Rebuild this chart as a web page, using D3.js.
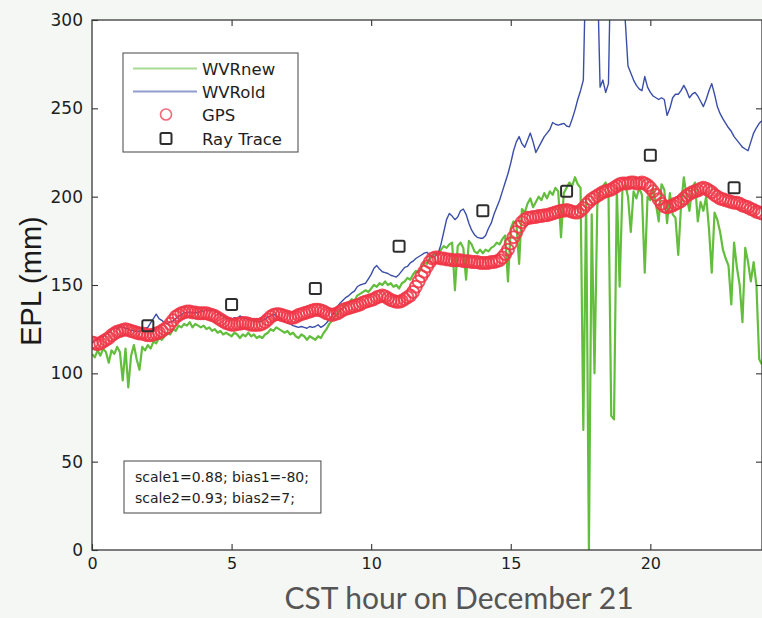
<!DOCTYPE html>
<html>
<head>
<meta charset="utf-8">
<script src="https://cdn.jsdelivr.net/npm/d3@7"></script>
<style>
  html, body { margin: 0; padding: 0; background: #f4f6f4; }
  svg { display: block; }
</style>
</head>
<body>
<svg id="chart" width="762" height="618"></svg>
<script>
// Excess path length (mm) sampled every 0.1 hour, 0 h to 24 h (CST, December 21)
const hourStep = 0.1;

const wvrNew = [
  111, 109, 113, 110, 114, 112, 106, 113, 111, 115,
  112, 96, 114, 92, 110, 116, 108, 102, 115, 113,
  116, 114, 118, 117, 120, 119, 121, 123, 122, 125,
  124, 127, 126, 128, 127, 129, 126, 128, 127, 126,
  127, 125, 126, 124, 125, 123, 124, 122, 123, 122,
  121, 123, 122, 120, 122, 121, 123, 121, 122, 120,
  121, 120, 122, 123, 125, 124, 126, 125, 124, 123,
  124, 122, 123, 121, 120, 122, 121, 119, 121, 120,
  119, 121, 120, 123, 125, 128, 130, 132, 134, 136,
  137, 139, 140, 142, 141, 144, 145, 146, 147, 146,
  148, 150, 149, 151, 150, 152, 150, 151, 149, 150,
  148, 151, 152, 154, 153, 156, 158, 157, 160, 163,
  162, 165, 167, 168, 167, 170, 172, 171, 173, 174,
  147, 172, 174, 171, 153, 175, 173, 169, 168, 170,
  168, 170, 169, 171, 172, 174, 173, 176, 178, 152,
  182, 186, 185, 162, 193, 191, 196, 199, 194, 197,
  200, 198, 202, 199, 203, 201, 205, 203, 177, 202,
  205, 208, 206, 211, 207, 205, 68, 200, 0, 190,
  100, 195, 204, 206, 208, 203, 76, 74, 205, 149,
  204, 207, 200, 180, 203, 199, 205, 201, 157, 200,
  198, 205, 196, 186, 207, 204, 185, 202, 190, 188,
  167, 195, 211, 200, 192, 205, 208, 186, 197, 192,
  200, 182, 157, 191, 187, 180, 170, 165, 161, 139,
  174, 160, 150, 129, 171, 163, 152, 163, 150, 108,
  105
];

const wvrOld = [
  117, 118.5, 119, 121, 120.5, 122.5, 123, 125, 126, 125,
  126.5, 126, 125.5, 125, 124, 124.5, 123.5, 124, 124, 125.5,
  126, 128.5, 131, 133.5, 131, 130, 128.5, 128, 129, 129.5,
  131, 132.5, 133, 134.5, 134, 135, 134, 134.5, 134, 135.5,
  135, 136, 135.5, 136, 135, 134.5, 133, 132.5, 131, 131,
  130.5, 131.5, 131, 132.5, 131.5, 131, 130.5, 130.5, 129.5, 129.5,
  129, 130, 130.5, 132, 132.5, 133.5, 132.5, 131.5, 130.5, 129.5,
  128.5, 128, 127, 126.5, 126, 126.5, 126, 125.5, 126.5, 126,
  126.5, 127.5, 126, 127, 128.5, 130.5, 132, 135.5, 138, 140,
  141.5, 143, 144, 145.5, 146.5, 149, 150, 150.5, 151, 153.5,
  156, 159.5, 161, 159, 157.5, 157, 156.5, 155.5, 155, 154.5,
  156, 158, 160, 160.5, 162.5, 163.5, 165, 166, 167, 168,
  168.5, 167, 166, 166.5, 168, 173, 180, 187, 190.5, 189,
  187, 188.5, 192, 193, 190, 185, 181, 178.5, 177, 176.5,
  176.5, 178, 182, 185, 190, 194, 198, 203, 208, 213,
  219, 226, 231, 234, 230, 228, 232, 236, 231, 225,
  228, 231, 234, 236, 238, 242, 241, 240.5, 241, 241.5,
  240, 239.5, 244, 249, 255, 260, 266, 340, 345, 350,
  340, 330, 262, 266, 259, 264, 350, 345, 340, 350,
  340, 300, 274, 270, 266, 263, 261, 260, 268, 262,
  259, 257, 256, 255, 256, 255, 246, 250, 256, 258,
  258, 260, 263, 260, 256, 258, 259, 257, 254, 251,
  255, 260, 264, 258, 251, 247, 244, 241.5, 239, 237,
  234, 232, 230, 228, 227, 226, 231, 236, 239, 241.5,
  243
];

const gps = [
  117.5, 117, 116.5, 117, 118, 119, 120, 121.5, 122.5, 123.5,
  124, 124.5, 125, 124.5, 124, 123.5, 123, 122.5, 122.5, 122,
  121.5, 121.5, 122, 122.5, 123, 124, 125, 126, 128, 130,
  132, 133, 134, 134.5, 135, 135, 134.5, 134.5, 134, 134,
  134, 134, 133.5, 133, 132.5, 131.5, 130.5, 129.5, 128.5, 128,
  127.5, 127.5, 128, 128, 128.5, 128.5, 128, 127.5, 127.5, 127.5,
  127.5, 128, 129, 130.5, 132, 133, 133.5, 133.5, 133, 132.5,
  132, 131.5, 131.5, 132, 133, 133.5, 134, 134.5, 135, 135.5,
  136, 136, 135.5, 135, 134, 133.5, 133, 133.5, 134, 135,
  136, 136.5, 137, 137.5, 138, 138.5, 139, 140, 140.5, 141,
  141.5, 142, 143, 143.5, 144, 143.5, 142.5, 141.5, 141, 140.5,
  140.5, 141, 142, 143, 144, 146, 149, 152, 155, 157.5,
  160.5, 163, 165, 165.5, 165.5, 165, 165, 164.5, 164.5, 164,
  164, 164, 164, 163.5, 163.5, 163.5, 163, 163, 163, 162.5,
  162.5, 162.5, 162.5, 163, 163, 163.5, 164, 165.5, 167.5, 170,
  173.5, 177, 180, 183, 185.5, 187, 188, 188, 188.5, 188.5,
  189, 189, 189.5, 189.5, 190, 190.5, 191, 191.5, 192, 192,
  192.5, 192, 191.5, 191, 191, 192, 193.5, 195.5, 197, 198.5,
  199.5, 200.5, 201.5, 202.5, 203, 203.5, 204, 205, 206, 207,
  207.5, 207.5, 207.5, 208, 208, 207.5, 207.5, 208, 207.5, 206.5,
  205, 203, 201, 198.5, 196, 194.5, 194, 194.5, 195, 196,
  196.5, 197.5, 199, 200.5, 201.5, 202.5, 203, 203.5, 204.5, 205,
  204.5, 203.5, 202.5, 201, 200, 199, 198.5, 198, 197.5, 197,
  196.5, 196.5, 196, 195, 194.5, 194, 193, 192.5, 191.5, 191,
  190.5
];

const rayHours = [2, 5, 8, 11, 14, 17, 20, 23];
const rayValues = [127, 139, 148, 172, 192, 203, 223.5, 205];

const xTicks = [0, 5, 10, 15, 20];
const yTicks = [0, 50, 100, 150, 200, 250, 300];
const legendLabels = ["WVRnew", "WVRold", "GPS", "Ray Trace"];
const noteLines = ["scale1=0.88; bias1=-80;", "scale2=0.93; bias2=7;"];
const xTitle = "CST hour on December 21";
const yTitle = "EPL (mm)";

// ---- layout and styles ----
const W = 762, H = 618;
const plot = { left: 92, top: 20, right: 762, bottom: 550 };
const colors = { green: "#62be3c", blue: "#3a4ea8", red: "#f03646", square: "#2e2e2e", axis: "#333" };
const tickFont = "'DejaVu Sans', 'Liberation Sans', sans-serif";

const x = d3.scaleLinear().domain([0, 24]).range([plot.left, plot.right]);
const y = d3.scaleLinear().domain([0, 300]).range([plot.bottom, plot.top]);
const hourAt = i => i * hourStep;

const svg = d3.select("#chart");
svg.append("rect").attr("width", W).attr("height", H).attr("fill", "#f5f7f5");
svg.append("rect")
  .attr("x", plot.left).attr("y", plot.top)
  .attr("width", plot.right - plot.left).attr("height", plot.bottom - plot.top)
  .attr("fill", "#ffffff");

svg.append("defs").append("clipPath").attr("id", "plotClip")
  .append("rect")
  .attr("x", plot.left).attr("y", plot.top)
  .attr("width", plot.right - plot.left).attr("height", plot.bottom - plot.top);

const data = svg.append("g").attr("clip-path", "url(#plotClip)");

const line = d3.line().x((d, i) => x(hourAt(i))).y(d => y(d));

data.append("path").datum(wvrNew)
  .attr("d", line).attr("fill", "none")
  .attr("stroke", colors.green).attr("stroke-width", 2.2)
  .attr("stroke-linejoin", "round");

data.append("path").datum(wvrOld)
  .attr("d", line).attr("fill", "none")
  .attr("stroke", colors.blue).attr("stroke-width", 1.4)
  .attr("stroke-linejoin", "round");

data.append("g").selectAll("circle").data(gps).join("circle")
  .attr("cx", (d, i) => x(hourAt(i)))
  .attr("cy", d => y(d))
  .attr("r", 6)
  .attr("fill", "none")
  .attr("stroke", colors.red)
  .attr("stroke-width", 2)
  .attr("stroke-opacity", 0.85);

data.append("g").selectAll("rect").data(rayValues).join("rect")
  .attr("x", (d, i) => x(rayHours[i]) - 5.5)
  .attr("y", d => y(d) - 5.5)
  .attr("width", 11).attr("height", 11)
  .attr("rx", 1.5)
  .attr("fill", "none")
  .attr("stroke", colors.square)
  .attr("stroke-width", 2);

// ---- axes (ticks point inward on all four sides) ----
function styleAxis(g) {
  g.select(".domain").remove();
  g.selectAll(".tick line").attr("stroke", colors.axis).attr("stroke-width", 1.1);
  g.selectAll(".tick text")
    .attr("fill", "#1e1e1e")
    .style("font-family", tickFont);
}

svg.append("g")
  .attr("transform", `translate(${plot.left},0)`)
  .call(d3.axisLeft(y).tickValues(yTicks).tickSizeInner(-6).tickSizeOuter(0).tickPadding(9))
  .call(styleAxis)
  .call(g => g.selectAll(".tick text").style("font-size", "17px"));

svg.append("g")
  .attr("transform", `translate(0,${plot.bottom})`)
  .call(d3.axisBottom(x).tickValues(xTicks).tickSizeInner(-6).tickSizeOuter(0).tickPadding(8))
  .call(styleAxis)
  .call(g => g.selectAll(".tick text").style("font-size", "16px"));

svg.append("g")
  .attr("transform", `translate(0,${plot.top})`)
  .call(d3.axisTop(x).tickValues(xTicks.slice(1)).tickSizeInner(-6).tickSizeOuter(0).tickFormat(() => ""))
  .call(styleAxis);

svg.append("g")
  .attr("transform", `translate(${plot.right},0)`)
  .call(d3.axisRight(y).tickValues(yTicks.slice(1, -1)).tickSizeInner(-6).tickSizeOuter(0).tickFormat(() => ""))
  .call(styleAxis);

svg.append("rect")
  .attr("x", plot.left).attr("y", plot.top)
  .attr("width", plot.right - plot.left).attr("height", plot.bottom - plot.top)
  .attr("fill", "none").attr("stroke", "#3a3a3a").attr("stroke-width", 1.3);

// ---- axis titles ----
svg.append("text")
  .attr("transform", "translate(41,281) rotate(-90)")
  .attr("text-anchor", "middle")
  .style("font-family", "'Liberation Sans', Arial, sans-serif")
  .style("font-size", "29px")
  .attr("fill", "#1a1a1a")
  .text(yTitle);

svg.append("text")
  .attr("x", 459).attr("y", 609)
  .attr("text-anchor", "middle")
  .style("font-family", "Lato, 'Open Sans', sans-serif")
  .style("font-size", "30px")
  .attr("fill", "#555")
  .text(xTitle);

// ---- legend ----
const legend = svg.append("g");
legend.append("rect")
  .attr("x", 123).attr("y", 53).attr("width", 175).attr("height", 99)
  .attr("fill", "#fff").attr("stroke", "#555").attr("stroke-width", 1.1);

const rowY = [68.5, 91.5, 114.5, 138.5];
const legendStroke = [colors.green, colors.blue];
legendStroke.forEach((c, i) => {
  legend.append("line")
    .attr("x1", 133).attr("x2", 197).attr("y1", rowY[i]).attr("y2", rowY[i])
    .attr("stroke", c).attr("stroke-width", 1.8).attr("opacity", 0.55);
});
legend.append("circle")
  .attr("cx", 166).attr("cy", rowY[2]).attr("r", 5.5)
  .attr("fill", "none").attr("stroke", "#f06a7a").attr("stroke-width", 1.6);
legend.append("rect")
  .attr("x", 160.5).attr("y", rowY[3] - 5.5).attr("width", 11).attr("height", 11).attr("rx", 1.5)
  .attr("fill", "none").attr("stroke", colors.square).attr("stroke-width", 2);

legend.selectAll("text.lab").data(legendLabels).join("text")
  .attr("class", "lab")
  .attr("x", 202)
  .attr("y", (d, i) => rowY[i] + 6.5)
  .style("font-family", tickFont)
  .style("font-size", "16.5px")
  .attr("fill", "#1e1e1e")
  .text(d => d);

// ---- calibration note ----
const note = svg.append("g");
const noteBox = note.append("rect")
  .attr("x", 124).attr("y", 461).attr("height", 52)
  .attr("fill", "#fff").attr("stroke", "#555").attr("stroke-width", 1.1);
const noteText = note.selectAll("text").data(noteLines).join("text")
  .attr("x", 135)
  .attr("y", (d, i) => 481.5 + i * 21)
  .style("font-family", tickFont)
  .style("font-size", "14px")
  .attr("fill", "#1e1e1e")
  .text(d => d);
let noteWidth = 0;
noteText.each(function () { noteWidth = Math.max(noteWidth, this.getComputedTextLength()); });
noteBox.attr("width", noteWidth + 11 + 12);
</script>
</body>
</html>
